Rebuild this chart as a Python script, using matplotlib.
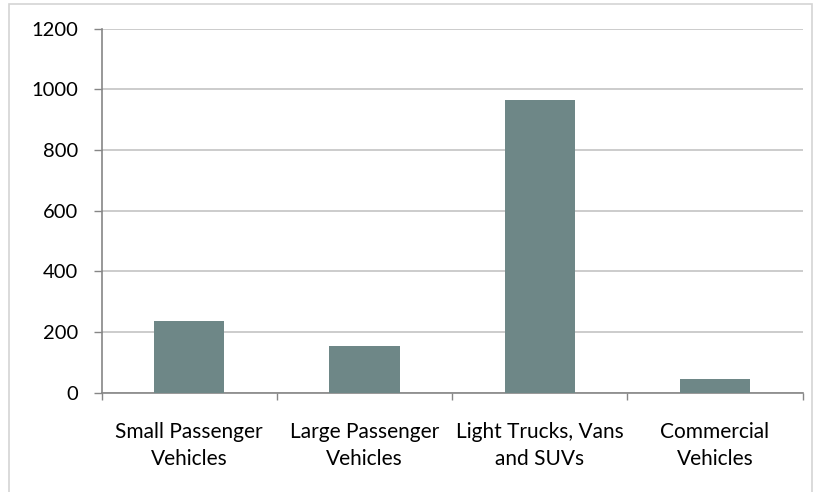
import numpy as np
import matplotlib.pyplot as plt
from matplotlib.patches import Rectangle

# Vehicle categories and counts
categories = ["Small Passenger\nVehicles", "Large Passenger\nVehicles",
              "Light Trucks, Vans\nand SUVs", "Commercial\nVehicles"]
values = [237, 152, 964, 44]
y_ticks = [0, 200, 400, 600, 800, 1000, 1200]

plt.rcParams['font.family'] = ['Lato', 'DejaVu Sans']

fig = plt.figure(figsize=(8.14, 4.92), dpi=100)
ax = fig.add_axes([0.1249, 0.2022, 0.8612, 0.7398])

x = np.arange(len(categories))
ax.bar(x, values, width=0.4, color='#6e8787', zorder=3)

ax.set_xlim(-0.5, len(categories) - 0.5)
ax.set_ylim(0, 1200)
ax.set_yticks(y_ticks)
ax.yaxis.grid(True, color='#c4c4c4', linewidth=1.2, zorder=0)

# major ticks sit between categories, labels go on minor ticks
ax.set_xticks(np.arange(-0.5, len(categories), 1.0))
ax.set_xticklabels([])
ax.set_xticks(x, minor=True)
ax.set_xticklabels(categories, minor=True, fontsize=15, linespacing=1.45)
ax.tick_params(axis='x', which='major', length=5, width=1, color='#868686')
ax.tick_params(axis='x', which='minor', length=0, pad=21)
ax.tick_params(axis='y', length=6, width=1, color='#868686', labelsize=14.5, pad=11)

for side in ['top', 'right']:
    ax.spines[side].set_visible(False)
for side in ['left', 'bottom']:
    ax.spines[side].set_color('#868686')
    ax.spines[side].set_linewidth(1.2)

# chart border
fig.patches.append(Rectangle((0.011, -0.02), 0.987, 1.011, transform=fig.transFigure,
                             fill=False, edgecolor='#d4d4d4', linewidth=1.2))

fig.savefig('out.png', dpi=100)
